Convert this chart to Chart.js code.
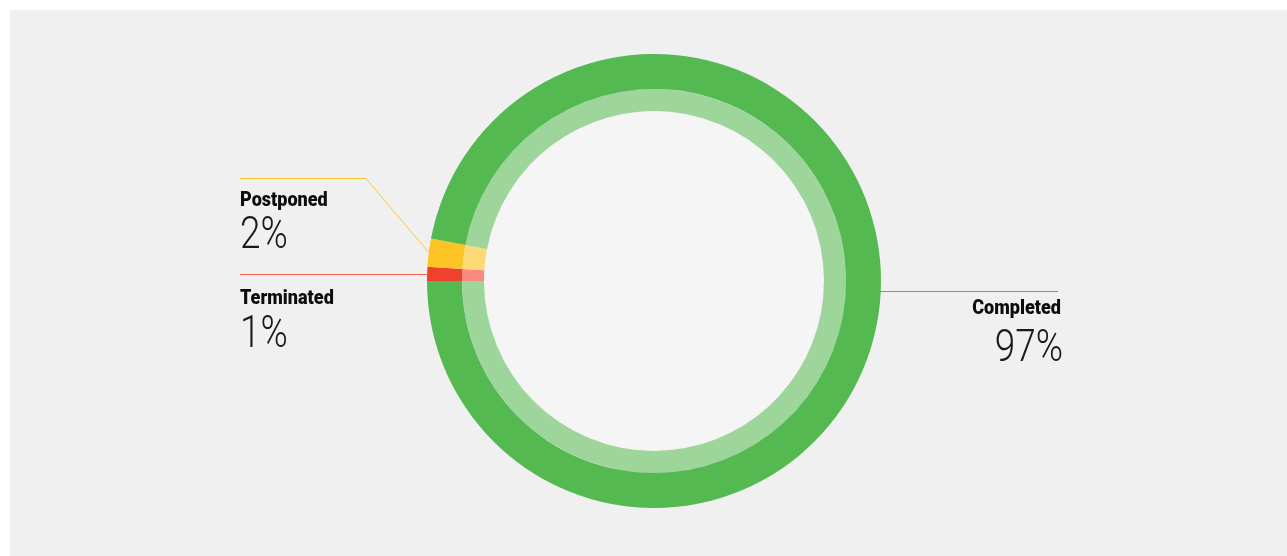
<!DOCTYPE html>
<html>
<head>
<meta charset="utf-8">
<script src="https://cdn.jsdelivr.net/npm/chart.js@4"></script>
<style>
  html, body { margin: 0; padding: 0; background: #ffffff; }
  #wrap { position: absolute; left: 10px; top: 10px; width: 1277px; height: 546px; background: #f0f0f0; }
</style>
</head>
<body>
<div id="wrap"><canvas id="statusChart"></canvas></div>
<script>
// Project status share
const categories = ['Terminated', 'Postponed', 'Completed'];
const outerValues = [1, 2, 97];
const innerValues = [1, 2, 97];
const percentLabels = ['1%', '2%', '97%'];

const outerColors = ['#ef412d', '#fdc425', '#55b951'];
const innerColors = ['#f98a80', '#fed976', '#9dd59a'];
const lineColors = ['#f4604d', '#fcc72e', '#4fb84a'];

// label layout (canvas coords)
const labelLayout = {
    Terminated: { x: 230, titleY: 294, pctY: 337, align: 'left', lineTo: 230 },
    Postponed: { x: 230, titleY: 196, pctY: 238, align: 'left', lineTo: 230, elbowX: 356, elbowY: 168 },
    Completed: { x: 1051, pctX: 1053, titleY: 304, pctY: 351, align: 'right', lineTo: 1048, lineY: 281 }
};

function condensedText(ctx, text, x, y, font, align, sx) {
    ctx.save();
    ctx.translate(x, y);
    ctx.scale(sx, 1);
    ctx.font = font;
    ctx.textAlign = align;
    ctx.textBaseline = 'alphabetic';
    ctx.fillText(text, 0, 0);
    ctx.restore();
}

const centerFill = {
    id: 'centerFill',
    beforeDatasetsDraw(chart) {
        const arc = chart.getDatasetMeta(1).data[0];
        const ctx = chart.ctx;
        ctx.save();
        ctx.fillStyle = '#f5f5f5';
        ctx.beginPath();
        ctx.arc(arc.x, arc.y, arc.innerRadius, 0, Math.PI * 2);
        ctx.fill();
        ctx.restore();
    }
};

const calloutLabels = {
    id: 'calloutLabels',
    afterDraw(chart) {
        const ctx = chart.ctx;
        const meta = chart.getDatasetMeta(0);
        meta.data.forEach((arc, i) => {
            const name = categories[i];
            const lay = labelLayout[name];
            const mid = (arc.startAngle + arc.endAngle) / 2;
            let ax = arc.x + Math.cos(mid) * arc.outerRadius;
            let ay = arc.y + Math.sin(mid) * arc.outerRadius;
            ctx.save();
            ctx.strokeStyle = lineColors[i];
            ctx.lineWidth = 1;
            ctx.beginPath();
            if (lay.lineY !== undefined) {
                const dy = lay.lineY - arc.y;
                ax = arc.x + Math.sqrt(arc.outerRadius * arc.outerRadius - dy * dy);
                ctx.moveTo(ax - 2, lay.lineY + 0.5);
                ctx.lineTo(lay.lineTo, lay.lineY + 0.5);
            } else if (lay.elbowX !== undefined) {
                ctx.moveTo(ax, ay);
                ctx.lineTo(lay.elbowX, lay.elbowY + 0.5);
                ctx.lineTo(lay.lineTo, lay.elbowY + 0.5);
            } else {
                ctx.moveTo(ax, Math.round(ay) + 0.5);
                ctx.lineTo(lay.lineTo, Math.round(ay) + 0.5);
            }
            ctx.stroke();
            ctx.fillStyle = '#0d0d0d';
            condensedText(ctx, name, lay.x, lay.titleY, '900 21px Roboto', lay.align, 0.86);
            ctx.fillStyle = '#1a1a1a';
            condensedText(ctx, percentLabels[i], lay.pctX || lay.x, lay.pctY, '300 44px Roboto', lay.align, 0.84);
            ctx.restore();
        });
    }
};

const ctx = document.getElementById('statusChart').getContext('2d');
const statusChart = new Chart(ctx, {
    type: 'doughnut',
    data: {
        labels: categories,
        datasets: [
            {
                data: outerValues,
                backgroundColor: outerColors,
                borderWidth: 0,
                weight: 35
            },
            {
                data: innerValues,
                backgroundColor: innerColors,
                borderWidth: 0,
                weight: 22
            }
        ]
    },
    options: {
        responsive: true,
        maintainAspectRatio: false,
        animation: false,
        rotation: -90,
        cutout: 170,
        layout: {
            padding: { top: 44, bottom: 48, left: 11, right: 0 }
        },
        plugins: {
            legend: { display: false },
            tooltip: { enabled: false }
        }
    },
    plugins: [centerFill, calloutLabels]
});
</script>
</body>
</html>
